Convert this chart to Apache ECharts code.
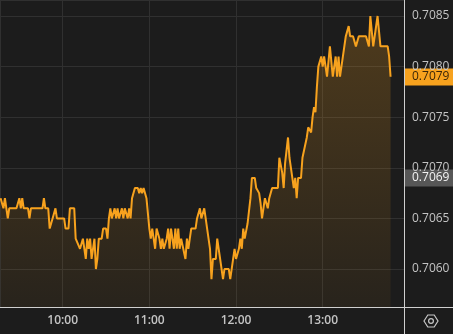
<!DOCTYPE html>
<html><head><meta charset="utf-8">
<script src="https://cdn.jsdelivr.net/npm/echarts@6/dist/echarts.min.js"></script>
<style>html,body{margin:0;padding:0;background:#1c1c1c;overflow:hidden}#c{width:453px;height:334px;}</style>
</head><body><div id="c"></div>
<script>
const startTime = '09:17';
const minuteOffsets = [0,1,2,3,4,5,6,11,12,13,14,15,16,19,20,21,29,30,31,33,34,35,36,38,39,44,45,47,48,51,
52,55,57,58,59,60,61,62,63,65,66,67,68,70,71,73,74,75,76,77,79,80,81,82,84,85,86,88,89,90,
91,92,93,95,96,97,98,99,101,103,104,105,106,107,108,110,111,112,113,115,116,117,118,120,121,122,123,124,125,126,
128,129,130,131,132,135,136,138,139,141,142,143,145,146,147,149,150,151,152,154,155,158,159,161,162,163,165,166,167,168,
169,171,173,174,176,177,179,180,181,182,183,185,186,188,192,193,195,196,197,199,200,202,203,204,205,206,208,209,210,212,
213,215,216,217,218,219,220,222,223,224,225,226,228,230,232,233,234,235,237,239,241,242,244,246,248,253,255,256,258,261,
263,268,269,270];
const prices = [0.7067,0.7067,0.7066,0.7067,0.7066,0.7065,0.7066,0.7066,0.7066,0.7067,0.7066,0.7067,0.7066,0.7066,0.7065,0.7066,0.7066,0.7067,0.7066,0.7066,0.7064,0.7064,0.7065,0.7066,0.7065,0.7065,0.7064,0.7064,0.7066,0.7066,
0.7063,0.7062,0.7063,0.7062,0.7061,0.7063,0.7062,0.7063,0.7061,0.7063,0.7060,0.7061,0.7063,0.7063,0.7064,0.7064,0.7063,0.7065,0.7066,0.7065,0.7066,0.7065,0.7066,0.7065,0.7066,0.7065,0.7066,0.7065,0.7066,0.7065,
0.7067,0.7067,0.7068,0.7068,0.70675,0.7068,0.70675,0.7068,0.7067,0.7064,0.7063,0.7064,0.7063,0.7062,0.7064,0.7063,0.7062,0.7063,0.7062,0.7063,0.7064,0.7062,0.7064,0.7062,0.7064,0.7062,0.7064,0.7062,0.7063,0.7063,
0.7061,0.7063,0.7062,0.7063,0.7064,0.7064,0.7065,0.7066,0.7065,0.7066,0.7065,0.7064,0.7062,0.7059,0.7061,0.7061,0.7063,0.7062,0.7061,0.7059,0.7060,0.7060,0.7059,0.7061,0.7062,0.7061,0.7062,0.7063,0.7062,0.7064,
0.7063,0.70645,0.7067,0.7069,0.7069,0.7068,0.70675,0.70665,0.7065,0.7065,0.7067,0.7066,0.7067,0.7068,0.7068,0.7071,0.70695,0.7068,0.70705,0.7073,0.7071,0.7069,0.7068,0.7069,0.7067,0.7069,0.7069,0.7071,0.7071,0.7073,
0.7074,0.70735,0.7075,0.7076,0.70755,0.7078,0.7080,0.7081,0.7080,0.7081,0.7081,0.7079,0.7082,0.7079,0.7081,0.7079,0.7081,0.7079,0.7081,0.7083,0.7084,0.7083,0.7083,0.7082,0.7083,0.7083,0.7082,0.7085,0.7082,0.7085,
0.7082,0.7082,0.7081,0.7079];
const xTickLabels = ['10:00','11:00','12:00','13:00'];
const lastPrice = 0.7079;
const refPrice = 0.7069;

function toMin(s){const p=s.split(':');return (+p[0])*60+(+p[1]);}
function fmtMin(v){const h=Math.floor(v/60),m=Math.round(v-h*60);return String(h).padStart(2,'0')+':'+String(m).padStart(2,'0');}
const t0 = toMin(startTime);
const seriesData = minuteOffsets.map((o,i)=>[t0+o, prices[i]]);

const chart = echarts.init(document.getElementById('c'), null, {renderer:'canvas'});
const font = "'Open Sans', 'Noto Sans', sans-serif";
const baseGraphic = [
  {type:'line', shape:{x1:404.5,y1:307,x2:404.5,y2:334}, style:{stroke:'#cfcfcf', lineWidth:1}},
  {type:'line', shape:{x1:404,y1:307.5,x2:453,y2:307.5}, style:{stroke:'#cfcfcf', lineWidth:1}},
  {type:'polygon', shape:{points:[[424,321],[427.8,315],[434.2,315],[438,321],[434.2,327],[427.8,327]]},
    style:{fill:'none', stroke:'#c8c8c8', lineWidth:1.2}},
  {type:'circle', shape:{cx:431, cy:321, r:2.4}, style:{fill:'none', stroke:'#c8c8c8', lineWidth:1.2}}
];
chart.setOption({
  backgroundColor:'#1c1c1c',
  animation:false,
  grid:{left:0, right:49, top:0, bottom:27, containLabel:false},
  xAxis:{
    type:'value', min:556.6, max:836.3, minInterval:60, maxInterval:60,
    axisLine:{show:true, lineStyle:{color:'#cfcfcf', width:1}},
    axisTick:{show:false},
    splitLine:{show:true, lineStyle:{color:'#303030', width:1}},
    axisLabel:{color:'#c4c4c4', fontSize:12, fontWeight:600, fontFamily:font, margin:8,
      showMinLabel:false, showMaxLabel:false,
      formatter:v=>{const s=fmtMin(v);return xTickLabels.indexOf(s)>=0?s:'';}}
  },
  yAxis:{
    type:'value', position:'right', min:0.705625, max:0.708658, splitNumber:5, scale:true,
    axisLine:{show:true, lineStyle:{color:'#cfcfcf', width:1}},
    axisTick:{show:false},
    splitLine:{show:true, lineStyle:{color:'#303030', width:1}},
    axisLabel:{color:'#c4c4c4', fontSize:12, fontFamily:font, margin:8,
      showMinLabel:false, showMaxLabel:false, formatter:v=>v.toFixed(4)}
  },
  series:[{
    type:'line', data:seriesData, symbol:'none', smooth:false,
    lineStyle:{color:'#f7a21e', width:2},
    areaStyle:{color:new echarts.graphic.LinearGradient(0,0,0,1,[
      {offset:0,color:'rgba(247,162,30,0.33)'},{offset:1,color:'rgba(247,162,30,0.08)'}])}
  }],
  graphic: baseGraphic
});

function priceTag(price, bg, fg){
  const y = chart.convertToPixel({yAxisIndex:0}, price);
  return {type:'group', children:[
    {type:'rect', shape:{x:405, y:Math.round(y)-8.5, width:48, height:17}, style:{fill:bg}},
    {type:'text', x:412, y:Math.round(y), style:{text:price.toFixed(4), fill:fg, font:'12px '+font, verticalAlign:'middle', align:'left'}}
  ]};
}
chart.setOption({graphic: baseGraphic.concat([
  priceTag(lastPrice, '#f7a21e', '#3a2608'),
  priceTag(refPrice, '#575757', '#f4f4f4')
])});
</script>
</body></html>
